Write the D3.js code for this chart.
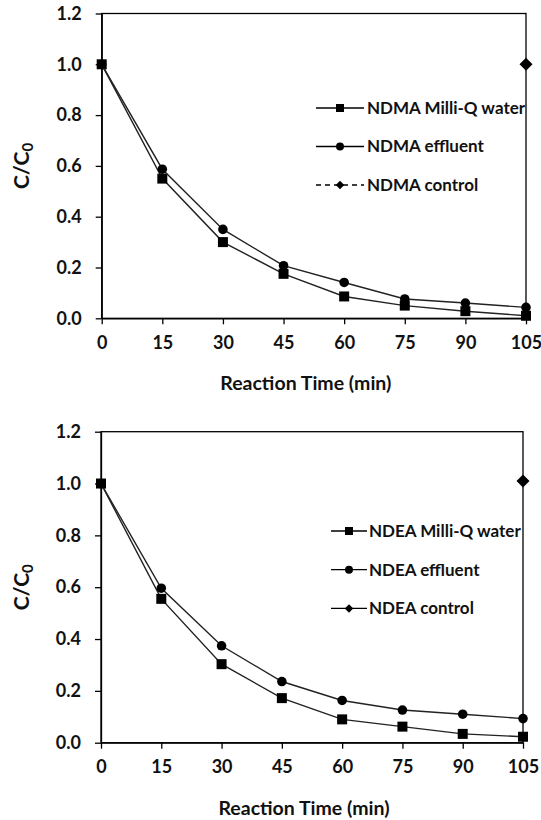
<!DOCTYPE html>
<html>
<head>
<meta charset="utf-8">
<script src="https://cdn.jsdelivr.net/npm/d3@7.9.0/dist/d3.min.js"></script>
<style>
  body { margin: 0; background: #fff; }
  svg { display: block; font-family: Lato, "Open Sans", sans-serif; font-weight: bold; }
</style>
</head>
<body>
<svg id="chart" width="541" height="820"></svg>
<script>
// reaction time (min)
const times = [0, 15, 30, 45, 60, 75, 90, 105];
const xTicks = [0, 15, 30, 45, 60, 75, 90, 105];
const yTicks = [0, 0.2, 0.4, 0.6, 0.8, 1.0, 1.2];

// NDMA panel
const ndmaMilliQ = [1.0, 0.55, 0.30, 0.175, 0.086, 0.05, 0.028, 0.01];
const ndmaEffluent = [1.0, 0.587, 0.35, 0.207, 0.141, 0.076, 0.06, 0.043];
const ndmaControlTimes = [105];
const ndmaControl = [1.0];

// NDEA panel
const ndeaMilliQ = [1.0, 0.555, 0.303, 0.172, 0.09, 0.062, 0.034, 0.023];
const ndeaEffluent = [1.0, 0.596, 0.374, 0.236, 0.163, 0.126, 0.11, 0.093];
const ndeaControlTimes = [105];
const ndeaControl = [1.01];

const svg = d3.select('#chart');

const panels = [
  {
    box: { left: 101.7, right: 526, top: 13.5, bottom: 318.3 },
    legend: { x: 316, y: 108, w: 48, text: 367, gap: 38.5 },
    series: [
      { name: 'NDMA Milli-Q water', t: times, v: ndmaMilliQ, shape: 'square', dash: null },
      { name: 'NDMA effluent', t: times, v: ndmaEffluent, shape: 'circle', dash: null },
      { name: 'NDMA control', t: ndmaControlTimes, v: ndmaControl, shape: 'diamond', dash: '5,4' }
    ]
  },
  {
    box: { left: 101, right: 523, top: 431.7, bottom: 742.7 },
    legend: { x: 331, y: 531, w: 36, text: 369, gap: 38.7 },
    series: [
      { name: 'NDEA Milli-Q water', t: times, v: ndeaMilliQ, shape: 'square', dash: null },
      { name: 'NDEA effluent', t: times, v: ndeaEffluent, shape: 'circle', dash: null },
      { name: 'NDEA control', t: ndeaControlTimes, v: ndeaControl, shape: 'diamond', dash: null }
    ]
  }
];

// marker symbols (diamond = rotated square)
const symbolFor = {
  square: d3.symbol().type(d3.symbolSquare).size(100),
  circle: d3.symbol().type(d3.symbolCircle).size(72),
  diamond: d3.symbol().type(d3.symbolSquare).size(85)
};
const legendSymbol = {
  square: d3.symbol().type(d3.symbolSquare).size(64),
  circle: d3.symbol().type(d3.symbolCircle).size(50),
  diamond: d3.symbol().type(d3.symbolSquare).size(36)
};
const rot = shape => shape === 'diamond' ? ' rotate(45)' : '';

function drawPanel(p) {
  const b = p.box;
  const x = d3.scaleLinear().domain([0, 105]).range([b.left, b.right]);
  const y = d3.scaleLinear().domain([0, 1.2]).range([b.bottom, b.top]);
  const g = svg.append('g');

  // frame
  g.append('rect')
    .attr('x', b.left).attr('y', b.top)
    .attr('width', b.right - b.left).attr('height', b.bottom - b.top)
    .attr('fill', 'none').attr('stroke', '#000').attr('stroke-width', 1.3);

  const xAxis = g.append('g')
    .attr('transform', `translate(0,${b.bottom})`)
    .call(d3.axisBottom(x).tickValues(xTicks).tickSize(6).tickSizeOuter(0).tickPadding(12));
  const yAxis = g.append('g')
    .attr('transform', `translate(${b.left},0)`)
    .call(d3.axisLeft(y).tickValues(yTicks).tickFormat(d3.format('.1f')).tickSize(6).tickSizeOuter(0).tickPadding(14));

  [xAxis, yAxis].forEach(a => {
    a.attr('font-family', null).attr('font-size', 18);
    a.select('.domain').attr('stroke-width', 1.3);
    a.selectAll('.tick line').attr('stroke-width', 1.3);
    a.selectAll('text').attr('fill', '#111');
  });

  // axis titles
  g.append('text')
    .attr('x', (b.left + b.right) / 2 - 8)
    .attr('y', b.bottom + 72)
    .attr('text-anchor', 'middle')
    .attr('font-size', 19.5)
    .attr('fill', '#111')
    .text('Reaction Time (min)');

  const yt = g.append('text')
    .attr('transform', `translate(29,${(b.top + b.bottom) / 2}) rotate(-90)`)
    .attr('text-anchor', 'middle')
    .attr('font-size', 21)
    .attr('fill', '#111');
  yt.append('tspan').text('C/C');
  yt.append('tspan').attr('font-size', 15).attr('dy', 4).text('0');

  const line = d3.line().x(d => x(d[0])).y(d => y(d[1]));

  p.series.forEach((s, i) => {
    const pts = s.t.map((t, k) => [t, s.v[k]]);
    if (pts.length > 1) {
      g.append('path')
        .attr('d', line(pts))
        .attr('fill', 'none')
        .attr('stroke', '#222')
        .attr('stroke-width', 1.4);
    }
    g.selectAll(null).data(pts).enter().append('path')
      .attr('d', symbolFor[s.shape])
      .attr('transform', d => `translate(${x(d[0])},${y(d[1])})${rot(s.shape)}`)
      .attr('fill', '#000');

    // legend entry
    const ly = p.legend.y + i * p.legend.gap;
    g.append('line')
      .attr('x1', p.legend.x).attr('x2', p.legend.x + p.legend.w)
      .attr('y1', ly).attr('y2', ly)
      .attr('stroke', '#000').attr('stroke-width', 1.3)
      .attr('stroke-dasharray', s.dash);
    g.append('path')
      .attr('d', legendSymbol[s.shape])
      .attr('transform', `translate(${p.legend.x + p.legend.w / 2},${ly})${rot(s.shape)}`)
      .attr('fill', '#000');
    g.append('text')
      .attr('x', p.legend.text).attr('y', ly)
      .attr('dy', '0.35em')
      .attr('font-size', 17)
      .attr('fill', '#111')
      .text(s.name);
  });
}

panels.forEach(drawPanel);
</script>
</body>
</html>
